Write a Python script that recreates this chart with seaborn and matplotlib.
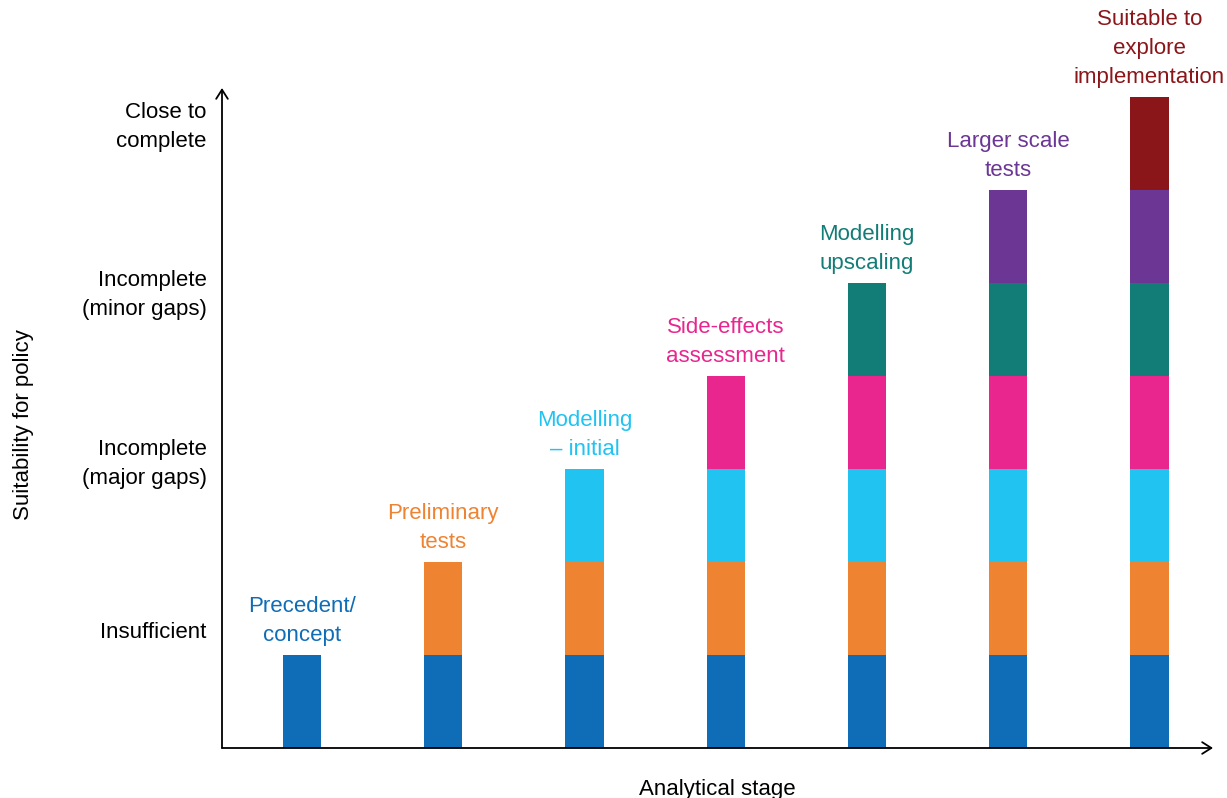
import matplotlib
matplotlib.use("Agg")
import matplotlib.pyplot as plt
import seaborn as sns
import pandas as pd

# ── Data ────────────────────────────────────────────────────────────────────
stages = ["Precedent/\nconcept", "Preliminary\ntests", "Modelling\n\u2013 initial",
          "Side-effects\nassessment", "Modelling\nupscaling", "Larger scale\ntests",
          "Suitable to\nexplore\nimplementation"]
stage_levels = [1, 2, 3, 4, 5, 6, 7]          # number of stacked blocks per stage
stage_colors = ["#0F6CB6", "#EE8432", "#21C3F1", "#E8268E",
                "#127C76", "#6C3694", "#8A1619"]
policy_labels = ["Insufficient", "Incomplete\n(major gaps)",
                 "Incomplete\n(minor gaps)", "Close to\ncomplete"]
policy_ticks = [1.27, 3.13, 4.94, 6.75]

FS = 16
LS = 1.5

sns.set_theme(style="white")
plt.rcParams["font.family"] = ["Liberation Sans", "DejaVu Sans"]

fig = plt.figure(figsize=(12.27, 7.98), dpi=100)
ax = fig.add_axes([222 / 1227, 50 / 798, 991 / 1227, 660 / 798])

keys = [str(i) for i in range(len(stages))]

# draw from the top layer down so lower blocks cover the upper ones
for k in range(len(stages) - 1, -1, -1):
    df = pd.DataFrame({
        "stage": [keys[s] for s in range(len(stages)) if stage_levels[s] > k],
        "height": [k + 1 for s in range(len(stages)) if stage_levels[s] > k],
    })
    sns.barplot(data=df, x="stage", y="height", order=keys, color=stage_colors[k],
                saturation=1, width=0.27, linewidth=0, ax=ax, errorbar=None)

for s, (name, lvl) in enumerate(zip(stages, stage_levels)):
    ax.text(s, lvl + 0.1, name, ha="center", va="bottom", fontsize=FS,
            color=stage_colors[s], linespacing=LS)

ax.set_xlim(-0.567, 6.45)
ax.set_ylim(0, 7.1)
ax.set_xticks([])
ax.set_yticks(policy_ticks)
ax.set_yticklabels(policy_labels, fontsize=FS, color="black")
for t in ax.get_yticklabels():
    t.set_linespacing(LS)
ax.tick_params(axis="y", length=0, pad=11)
ax.set_xlabel("Analytical stage", fontsize=FS, color="black", labelpad=22)
ax.set_ylabel("Suitability for policy", fontsize=FS, color="black")
ax.yaxis.set_label_coords(-0.19, 0.49)

for sp in ax.spines.values():
    sp.set_visible(False)

arrow = dict(arrowstyle="->,head_length=0.55,head_width=0.35", lw=1.3,
             color="black", shrinkA=0, shrinkB=0)
ax.annotate("", xy=(1, 0), xytext=(0, 0), xycoords="axes fraction",
            arrowprops=arrow, annotation_clip=False)
ax.annotate("", xy=(0, 1), xytext=(0, 0), xycoords="axes fraction",
            arrowprops=arrow, annotation_clip=False)

fig.savefig("out.png", dpi=100)
